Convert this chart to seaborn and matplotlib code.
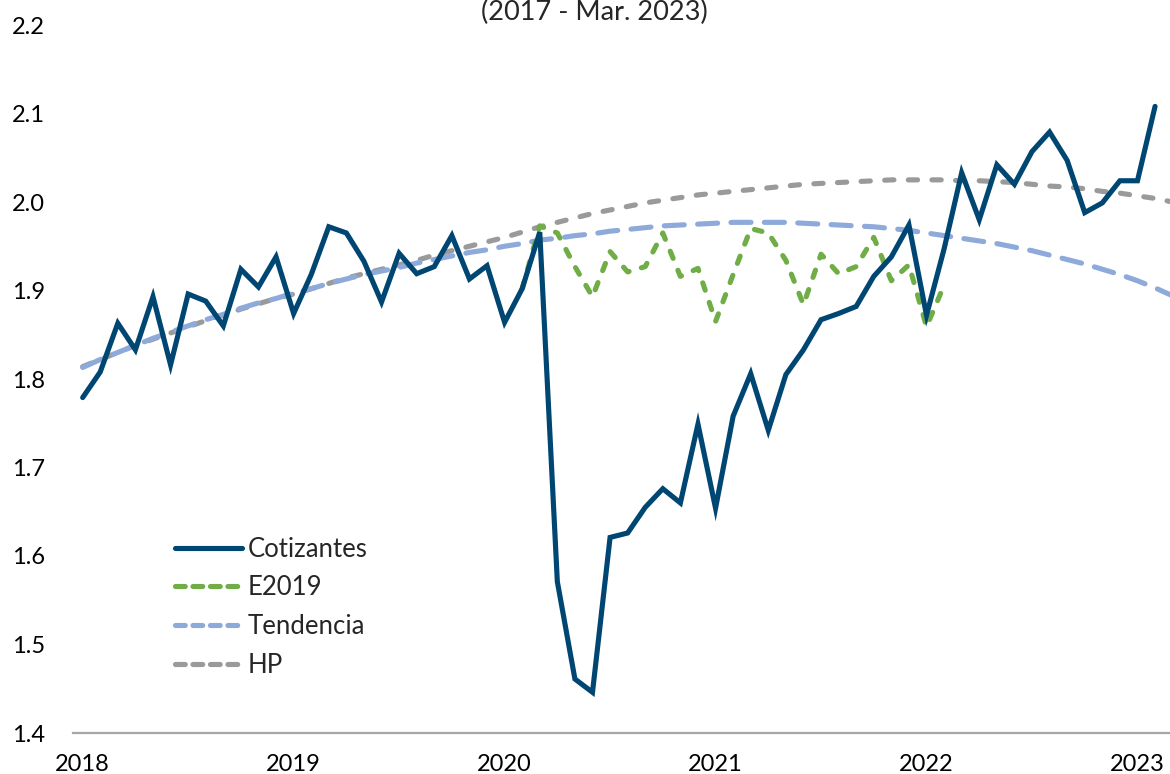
import numpy as np
import pandas as pd
import matplotlib
matplotlib.use("Agg")
import matplotlib.pyplot as plt
import seaborn as sns

# monthly series, Jan 2018 = 0
cotizantes = [1.779, 1.808, 1.863, 1.833, 1.893, 1.816, 1.896, 1.888, 1.860, 1.924,
              1.904, 1.938, 1.874, 1.918, 1.972, 1.965, 1.933, 1.887, 1.942, 1.919,
              1.927, 1.962, 1.913, 1.928, 1.864, 1.902, 1.966, 1.571, 1.461, 1.446,
              1.621, 1.626, 1.655, 1.676, 1.660, 1.749, 1.654, 1.758, 1.806, 1.742,
              1.805, 1.833, 1.867, 1.874, 1.882, 1.916, 1.938, 1.974, 1.872, 1.947,
              2.033, 1.980, 2.042, 2.020, 2.057, 2.079, 2.047, 1.988, 1.999, 2.024,
              2.024, 2.108]

e2019_start = 25
e2019 = [1.902, 1.973, 1.965, 1.927, 1.893, 1.944, 1.921, 1.927, 1.965, 1.916,
         1.925, 1.865, 1.918, 1.970, 1.965, 1.934, 1.884, 1.941, 1.919, 1.927,
         1.960, 1.911, 1.929, 1.859, 1.906]

tendencia = [1.813, 1.822, 1.830, 1.838, 1.846, 1.853, 1.860, 1.867, 1.873, 1.880,
             1.886, 1.891, 1.897, 1.902, 1.908, 1.913, 1.918, 1.922, 1.926, 1.931,
             1.935, 1.939, 1.943, 1.946, 1.950, 1.953, 1.957, 1.959, 1.962, 1.964,
             1.967, 1.969, 1.971, 1.973, 1.974, 1.975, 1.976, 1.977, 1.977, 1.977,
             1.977, 1.976, 1.975, 1.974, 1.973, 1.972, 1.970, 1.968, 1.965, 1.962,
             1.959, 1.956, 1.953, 1.949, 1.945, 1.940, 1.935, 1.930, 1.924, 1.918,
             1.911, 1.903, 1.894]

hp = [1.814, 1.822, 1.830, 1.838, 1.845, 1.852, 1.859, 1.866, 1.872, 1.879,
      1.885, 1.891, 1.896, 1.902, 1.908, 1.914, 1.919, 1.924, 1.929, 1.934,
      1.940, 1.945, 1.950, 1.955, 1.960, 1.966, 1.972, 1.977, 1.982, 1.987,
      1.991, 1.995, 1.999, 2.002, 2.005, 2.008, 2.010, 2.012, 2.014, 2.016,
      2.018, 2.020, 2.021, 2.022, 2.023, 2.024, 2.025, 2.025, 2.025, 2.025,
      2.024, 2.024, 2.023, 2.022, 2.020, 2.018, 2.017, 2.015, 2.012, 2.010,
      2.007, 2.004, 2.000]

years = ["2018", "2019", "2020", "2021", "2022", "2023"]
y_ticks = [1.4, 1.5, 1.6, 1.7, 1.8, 1.9, 2.0, 2.1, 2.2]

sns.set_style("white")
plt.rcParams['font.family'] = ['Lato', 'DejaVu Sans']

fig = plt.figure(figsize=(11.7, 7.74), dpi=100)
ax = fig.add_axes([73 / 1170, 1 - 733 / 774, 1 - 73 / 1170, (733 - 25) / 774])

df_cot = pd.DataFrame({'mes': np.arange(len(cotizantes)), 'valor': cotizantes})
df_e19 = pd.DataFrame({'mes': np.arange(e2019_start, e2019_start + len(e2019)), 'valor': e2019})
df_ten = pd.DataFrame({'mes': np.arange(len(tendencia)), 'valor': tendencia})
df_hp = pd.DataFrame({'mes': np.arange(len(hp)), 'valor': hp})

lw = 3.7
sns.lineplot(data=df_hp, x='mes', y='valor', ax=ax, color='#9a9a9a', lw=lw,
             label='HP', zorder=2)
sns.lineplot(data=df_ten, x='mes', y='valor', ax=ax, color='#8eaadb', lw=lw,
             label='Tendencia', zorder=2)
sns.lineplot(data=df_e19, x='mes', y='valor', ax=ax, color='#70ad47', lw=lw,
             label='E2019', zorder=3)
sns.lineplot(data=df_cot, x='mes', y='valor', ax=ax, color='#004673', lw=lw,
             label='Cotizantes', zorder=4)

lines = ax.get_lines()
lines[0].set_dashes([1.8, 2.8])   # HP
lines[1].set_dashes([3.9, 2.6])   # Tendencia
lines[2].set_dashes([1.5, 2.5])   # E2019
for ln in lines[:3]:
    ln.set_dash_capstyle('round')
lines[3].set_solid_capstyle('round')
lines[3].set_solid_joinstyle('miter')

ax.set_xlim(-0.55, 61.85)
ax.set_ylim(1.4, 2.2)
ax.set_xticks([0, 12, 24, 36, 48, 60])
ax.set_xticklabels(years)
ax.set_yticks(y_ticks)
ax.set_yticklabels([f"{v:.1f}" for v in y_ticks])
ax.tick_params(axis='both', length=0, labelsize=17, colors='black')
ax.tick_params(axis='y', pad=20)
ax.tick_params(axis='x', pad=15)
ax.set_xlabel('')
ax.set_ylabel('')
for s in ['top', 'right', 'left']:
    ax.spines[s].set_visible(False)
ax.spines['bottom'].set_color('#a6a6a6')
ax.spines['bottom'].set_linewidth(1.6)
ax.grid(False)

handles, labels = ax.get_legend_handles_labels()
order = ['Cotizantes', 'E2019', 'Tendencia', 'HP']
hmap = dict(zip(labels, handles))
leg = ax.legend([hmap[k] for k in order], order, loc='upper left',
                bbox_to_anchor=(162 / 1170, 1 - 524 / 774), bbox_transform=fig.transFigure,
                frameon=False, fontsize=18.5, handlelength=2.6, handletextpad=0.22,
                labelspacing=0.53, borderpad=0)
for h in leg.get_lines():
    h.set_linewidth(lw)
    if h.get_label() != 'Cotizantes':
        h.set_dashes([1.9, 1.5])
        h.set_dash_capstyle('round')

fig.text(594 / 1170, 1 - 12 / 774, '(2017 - Mar. 2023)', ha='center', va='center',
         fontsize=19.5)

fig.savefig('out.png', dpi=100)
